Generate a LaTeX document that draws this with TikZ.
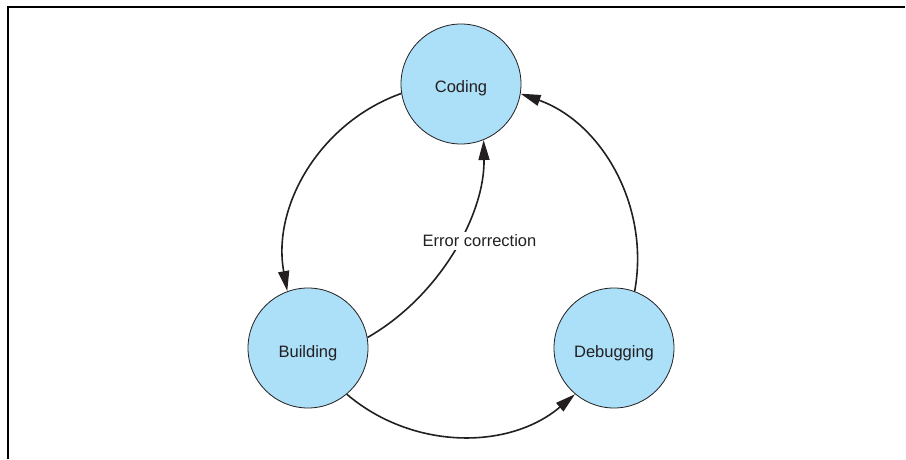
\documentclass[tikz,border=0pt]{standalone}
\usepackage{fontspec}
\setmainfont{Liberation Sans}
\usetikzlibrary{arrows.meta}
\definecolor{nodefill}{RGB}{172,223,248}
\definecolor{ink}{RGB}{35,31,32}
\tikzset{
  stage/.style={circle, draw=ink, line width=0.8pt, fill=nodefill, minimum size=120pt, inner sep=0pt, text=ink, text height=20pt, text depth=2pt, font=\fontsize{16.5}{20}\selectfont},
  flow/.style={draw=ink, line width=1.6pt, -{Triangle[length=20pt,width=11pt]}},
  lbl/.style={fill=white, inner sep=3pt, text=ink, font=\fontsize{16.5}{20}\selectfont},
  frame/.style={draw=black, line width=2pt}
}
\begin{document}
\begin{tikzpicture}[x=1pt, y=1pt]
\useasboundingbox (0,0) rectangle (906,459);
\coordinate (fa) at (8,0);
\coordinate (fb) at (8,452);
\coordinate (fc) at (905,452);
\draw[frame] (fa) -- (fb) -- (fc);

\node[stage] (C) at (461,375) {Coding};
\node[stage] (B) at (308,111) {Building};
\node[stage] (D) at (614,111) {Debugging};

\draw[flow] (C.189.8) arc[start angle=109.6, end angle=190.4, radius=176pt];
\draw[flow] (B.-50) arc[start angle=229.6, end angle=310.4, radius=176pt];
\draw[flow] (D.70) arc[start angle=-10.4, end angle=70.4, radius=176pt];

\draw[flow] (B.10) .. controls (440,163) and (485,245) .. (C.-68);
\node[lbl] (E) at (479.5,218) {Error correction};
\end{tikzpicture}
\end{document}
